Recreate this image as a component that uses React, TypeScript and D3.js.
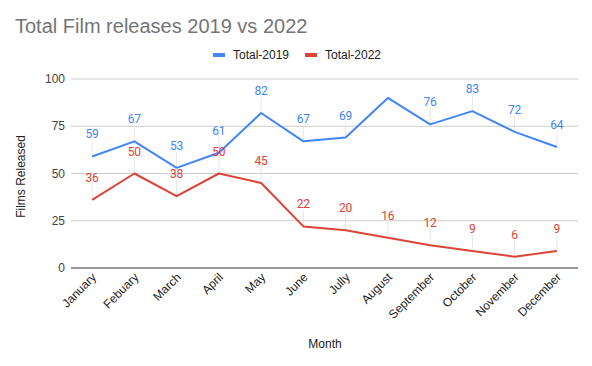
import React from "react";
import * as d3 from "d3";

const months = ["January","Febuary","March","April","May","June","Jully","August","September","October","November","December"];
const total2019 = [59,67,53,61,82,67,69,90,76,83,72,64];
const labels2019 = [true,true,true,true,true,true,true,false,true,true,true,true];
const total2022 = [36,50,38,50,45,22,20,16,12,9,6,9];
const yTicks = [0,25,50,75,100];
const seriesNames = ["Total-2019","Total-2022"];
const colors = ["#4285f4","#db4437"];

const W = 592, H = 366;
const left = 71, right = 578, top = 79, bottom = 268;
const font = "Arial, 'Liberation Sans', sans-serif";
const labelFont = "Roboto, Arial, sans-serif";

export default function App() {
  const x = d3.scalePoint<string>().domain(months).range([left, right]).padding(0.5);
  const y = d3.scaleLinear().domain([0, 100]).range([bottom, top]);
  const line = d3.line<number>().x((_, i) => x(months[i])!).y(d => y(d));
  const series = [total2019, total2022];
  return (
    <svg width={W} height={H} style={{ position: "absolute", left: 0, top: 0, background: "#fff" }} fontFamily={font}>
      <rect width={W} height={H} fill="#fff" />
      <text x={15} y={33} fontSize={20} fill="#757575">Total Film releases 2019 vs 2022</text>
      {seriesNames.map((n, i) => {
        const lx = i === 0 ? 213 : 305;
        return (
          <g key={n}>
            <rect x={lx} y={53} width={12} height={4} fill={colors[i]} />
            <text x={lx + 20} y={59} fontSize={12} fill="#222">{n}</text>
          </g>
        );
      })}
      {yTicks.map(t => (
        <g key={t}>
          <line x1={left} x2={right} y1={y(t)} y2={y(t)} stroke={t === 0 ? "#333" : "#ccc"} strokeWidth={1} />
          <text x={65} y={y(t) + 4} fontSize={12} fill="#444" textAnchor="end">{t}</text>
        </g>
      ))}
      <text transform={`translate(25,${(top + bottom) / 2 + 3}) rotate(-90)`} fontSize={12} fill="#222" textAnchor="middle">Films Released</text>
      <text x={325} y={348} fontSize={12} fill="#222" textAnchor="middle">Month</text>
      {months.map(m => (
        <text key={m} transform={`translate(${x(m)! + 5},${278}) rotate(-45)`} fontSize={12} fill="#222" textAnchor="end">{m}</text>
      ))}
      {series.map((s, si) => (
        <g key={si}>
          {s.map((v, i) => (si === 0 && !labels2019[i]) ? null : (
            <line key={i} x1={x(months[i])} x2={x(months[i])} y1={y(v)} y2={y(v) - 16} stroke="#e6e6e6" strokeWidth={1} />
          ))}
        </g>
      ))}
      {series.map((s, si) => (
        <path key={si} d={line(s)!} fill="none" stroke={colors[si]} strokeWidth={2} strokeLinejoin="round" />
      ))}
      {series.map((s, si) => (
        <g key={si}>
          {s.map((v, i) => (si === 0 && !labels2019[i]) ? null : (
            <text key={i} x={x(months[i])} y={y(v) - 18} fontSize={12} fontFamily={labelFont} fill={colors[si]} textAnchor="middle">{v}</text>
          ))}
        </g>
      ))}
    </svg>
  );
}
